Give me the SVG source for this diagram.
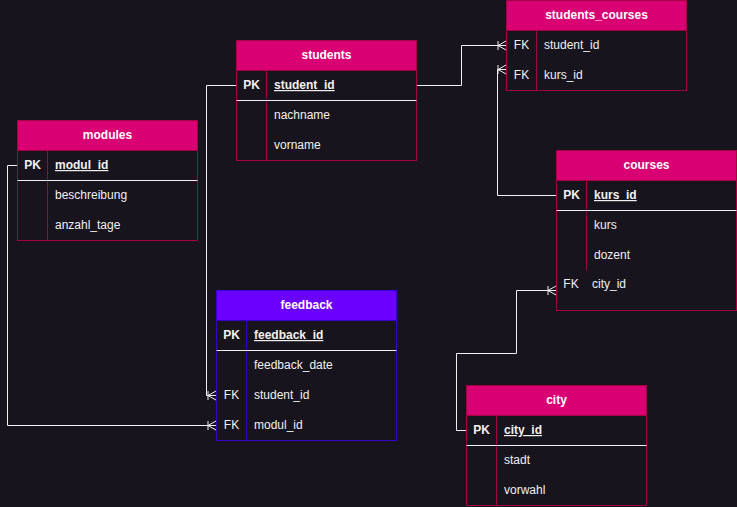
<svg xmlns="http://www.w3.org/2000/svg" width="737" height="507" viewBox="0 0 737 507">
<defs>
<style>
.bg{fill:#18141d}
.body{fill:#18141d;stroke:#a50040;stroke-width:1}
.hdr{fill:#d80073;stroke:#a50040;stroke-width:1}
.fbody{fill:#18141d;stroke:#3700cc;stroke-width:1}
.fhdr{fill:#6a00ff;stroke:#3700cc;stroke-width:1}
.div{stroke:#a50040;stroke-width:1}
.fdiv{stroke:#3700cc;stroke-width:1}
.sep{stroke:#f0f0f0;stroke-width:1}
text{font-family:"Liberation Sans",Arial,sans-serif;font-size:12px;fill:#f0f0f0}
.title{font-weight:bold;fill:#ffffff;text-anchor:middle}
.key{text-anchor:middle}
.pk{font-weight:bold}
.pkf{font-weight:bold;text-decoration:underline}
.conn{fill:none;stroke:#f0f0f0;stroke-width:1}
</style>
<marker id="many" markerUnits="userSpaceOnUse" markerWidth="14" markerHeight="14" viewBox="-12 -7 14 14" refX="0" refY="0" orient="auto" overflow="visible">
<path d="M-8,-4.5 V4.5 M-8,0 L0,-4.5 M-8,0 L0,4.5 M-8,0 H0" fill="none" stroke="#f0f0f0" stroke-width="1"/>
</marker>
</defs>
<rect class="bg" x="0" y="0" width="737" height="507"/>

<g id="connectors">
<path class="conn" d="M416.5,85.5 H461.5 V45.5 H506" marker-end="url(#many)"/>
<path class="conn" d="M556,195.5 H497.5 V69.5 H506" marker-end="url(#many)"/>
<path class="conn" d="M466,430.5 H456.5 V353.5 H516.5 V290.5 H556" marker-end="url(#many)"/>
<path class="conn" d="M236,85.5 H206.5 V395.5 H216" marker-end="url(#many)"/>
<path class="conn" d="M17,165.5 H7.5 V425.5 H216" marker-end="url(#many)"/>
</g>

<g id="students">
<rect class="body" x="236.5" y="40.5" width="180" height="120"/>
<rect class="hdr" x="236.5" y="40.5" width="180" height="30"/>
<line class="div" x1="266.5" y1="70.5" x2="266.5" y2="160.5"/>
<line class="sep" x1="236.5" y1="100.5" x2="416.5" y2="100.5"/>
<text class="title" x="326.5" y="59">students</text>
<text class="key pk" x="251.5" y="89">PK</text>
<text class="pkf" x="274" y="89">student_id</text>
<text x="274" y="119">nachname</text>
<text x="274" y="149">vorname</text>
</g>

<g id="students_courses">
<rect class="body" x="506.5" y="0.5" width="180" height="90"/>
<rect class="hdr" x="506.5" y="0.5" width="180" height="30"/>
<line class="div" x1="536.5" y1="30.5" x2="536.5" y2="90.5"/>
<text class="title" x="596.5" y="19">students_courses</text>
<text class="key" x="521.5" y="49">FK</text>
<text x="544" y="49">student_id</text>
<text class="key" x="521.5" y="79">FK</text>
<text x="544" y="79">kurs_id</text>
</g>

<g id="modules">
<rect class="body" x="17.5" y="120.5" width="180" height="120"/>
<rect class="hdr" x="17.5" y="120.5" width="180" height="30"/>
<line class="div" x1="47.5" y1="150.5" x2="47.5" y2="240.5"/>
<line class="sep" x1="17.5" y1="180.5" x2="197.5" y2="180.5"/>
<text class="title" x="107.5" y="139">modules</text>
<text class="key pk" x="32.5" y="169">PK</text>
<text class="pkf" x="55" y="169">modul_id</text>
<text x="55" y="199">beschreibung</text>
<text x="55" y="229">anzahl_tage</text>
</g>

<g id="courses">
<rect class="body" x="556.5" y="150.5" width="180" height="160"/>
<rect class="hdr" x="556.5" y="150.5" width="180" height="30"/>
<line class="div" x1="586.5" y1="180.5" x2="586.5" y2="270.5"/>
<line class="sep" x1="556.5" y1="210.5" x2="736.5" y2="210.5"/>
<text class="title" x="646.5" y="169">courses</text>
<text class="key pk" x="571.5" y="199">PK</text>
<text class="pkf" x="594" y="199">kurs_id</text>
<text x="594" y="229">kurs</text>
<text x="594" y="259">dozent</text>
<text class="key" x="571" y="288">FK</text>
<text x="592" y="288">city_id</text>
</g>

<g id="feedback">
<rect class="fbody" x="216.5" y="290.5" width="180" height="150"/>
<rect class="fhdr" x="216.5" y="290.5" width="180" height="30"/>
<line class="fdiv" x1="246.5" y1="320.5" x2="246.5" y2="440.5"/>
<line class="sep" x1="216.5" y1="350.5" x2="396.5" y2="350.5"/>
<text class="title" x="306.5" y="309">feedback</text>
<text class="key pk" x="231.5" y="339">PK</text>
<text class="pkf" x="254" y="339">feedback_id</text>
<text x="254" y="369">feedback_date</text>
<text class="key" x="231.5" y="399">FK</text>
<text x="254" y="399">student_id</text>
<text class="key" x="231.5" y="429">FK</text>
<text x="254" y="429">modul_id</text>
</g>

<g id="city">
<rect class="body" x="466.5" y="385.5" width="180" height="120"/>
<rect class="hdr" x="466.5" y="385.5" width="180" height="30"/>
<line class="div" x1="496.5" y1="415.5" x2="496.5" y2="505.5"/>
<line class="sep" x1="466.5" y1="445.5" x2="646.5" y2="445.5"/>
<text class="title" x="556.5" y="404">city</text>
<text class="key pk" x="481.5" y="434">PK</text>
<text class="pkf" x="504" y="434">city_id</text>
<text x="504" y="464">stadt</text>
<text x="504" y="494">vorwahl</text>
</g>
</svg>
